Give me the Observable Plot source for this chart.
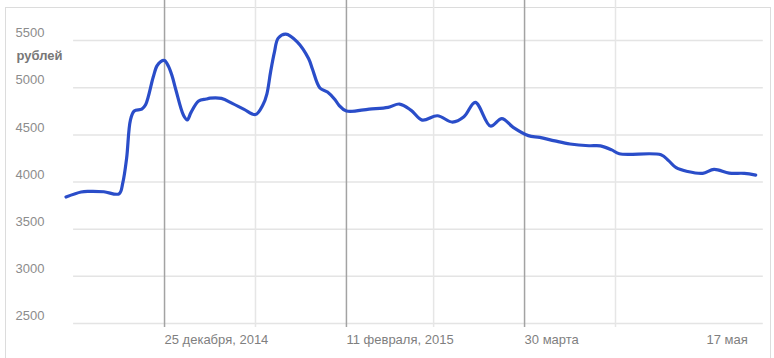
<!DOCTYPE html>
<html><head><meta charset="utf-8">
<script src="https://cdn.jsdelivr.net/npm/d3@7"></script>
<script src="https://cdn.jsdelivr.net/npm/@observablehq/plot@0.6"></script>
<style>
html,body{margin:0;padding:0;background:#fff;}
#wrap{position:relative;width:774px;height:358px;overflow:hidden;}
#border{position:absolute;left:5px;top:7px;width:764px;height:360px;border:1px solid #dcdcdc;}
#chart{position:absolute;left:0;top:0;}
</style></head><body>
<div id="wrap"><div id="border"></div><div id="chart"></div></div>
<script>
const dates = [
 "2014-11-29","2014-12-03","2014-12-05","2014-12-09","2014-12-13","2014-12-14","2014-12-15","2014-12-16","2014-12-17","2014-12-19",
 "2014-12-20","2014-12-22","2014-12-23","2014-12-24","2014-12-25","2014-12-26","2014-12-27","2014-12-28","2014-12-30","2014-12-31",
 "2015-01-01","2015-01-03","2015-01-05","2015-01-06","2015-01-09","2015-01-12","2015-01-15","2015-01-18","2015-01-20","2015-01-21",
 "2015-01-22","2015-01-23","2015-01-24","2015-01-26","2015-01-29","2015-02-01","2015-02-02","2015-02-04","2015-02-06","2015-02-08",
 "2015-02-09","2015-02-11","2015-02-17","2015-02-22","2015-02-25","2015-02-28","2015-03-03","2015-03-07","2015-03-11","2015-03-14",
 "2015-03-17","2015-03-21","2015-03-24","2015-03-27","2015-03-31","2015-04-03","2015-04-07","2015-04-11","2015-04-16","2015-04-19",
 "2015-04-22","2015-04-24","2015-05-05","2015-05-07","2015-05-09","2015-05-12","2015-05-16","2015-05-19","2015-05-23","2015-05-27",
 "2015-05-30"
];
const prices = [
 3841,3894,3901,3897,3875,3995,4254,4657,4754,4774,
 4819,5111,5232,5278,5288,5230,5124,4976,4708,4659,
 4739,4859,4880,4890,4887,4831,4771,4716,4822,4933,
 5171,5378,5526,5569,5487,5310,5201,4997,4954,4873,
 4816,4753,4774,4792,4827,4763,4657,4703,4636,4692,
 4845,4594,4673,4580,4492,4474,4436,4403,4385,4384,
 4341,4300,4289,4227,4152,4112,4092,4135,4095,4092,
 4074
];
const yTicks = [2500,3000,3500,4000,4500,5000,5500];
const yUnit = ["рублей"];
const xTickDates = ["2014-12-25","2015-02-11","2015-03-30","2015-05-17"];
const xTickLabels = ["25 декабря, 2014","11 февраля, 2015","30 марта","17 мая"];
const markerDates = ["2014-12-25","2015-02-11","2015-03-30"];
const midGridDates = ["2015-01-18","2015-03-06","2015-04-23"];

const parse = d3.utcParse("%Y-%m-%d");
const data = dates.map((d, i) => ({date: parse(d), price: prices[i]}));
const xTicks = xTickDates.map(parse);
const labelMap = new Map(xTicks.map((d, i) => [+d, xTickLabels[i]]));
const gridStart = parse("2014-12-01"), gridEnd = parse("2015-06-01");

const chart = Plot.plot({
  width: 774, height: 358,
  marginLeft: 65.5, marginRight: 7.4, marginTop: 0, marginBottom: 35,
  style: {fontFamily: "'Liberation Sans', Arial, sans-serif", fontSize: "13px", background: "transparent"},
  x: {type: "utc", domain: [parse("2014-11-29"), parse("2015-06-02")]},
  y: {domain: [2500, 5925]},
  marks: [
    Plot.ruleY(yTicks, {y: d => d, x1: () => gridStart, x2: () => gridEnd, stroke: "#e4e4e4", strokeWidth: 1.5}),
    Plot.ruleX(midGridDates.map(parse), {x: d => d, stroke: "#e6e6e6", strokeWidth: 1.5, insetBottom: -4}),
    Plot.ruleX(markerDates.map(parse), {x: d => d, stroke: "#a3a3a3", strokeWidth: 1.5, insetBottom: -4}),
    Plot.line(data, {x: "date", y: "price", stroke: "#2a4dc9", strokeWidth: 3.2, curve: "catmull-rom"}),
    Plot.axisY(yTicks, {anchor: "left", tickSize: 0, tickPadding: 0, textAnchor: "start", dx: -50.5, dy: -7.5,
      fill: "#8c8c8c", fontSize: 13, tickFormat: d => String(d), label: null}),
    Plot.axisX(xTicks, {anchor: "bottom", tickSize: 0, tickPadding: 11, textAnchor: "start",
      fill: "#7f7f7f", fontSize: 13, tickFormat: d => labelMap.get(+d), label: null}),
    Plot.text(yUnit, {frameAnchor: "top-left", text: d => d, textAnchor: "start", dx: -49.5, dy: 50,
      fill: "#777", fontSize: 13, fontWeight: "bold"})
  ]
});
document.getElementById("chart").appendChild(chart);
</script>
</body></html>
